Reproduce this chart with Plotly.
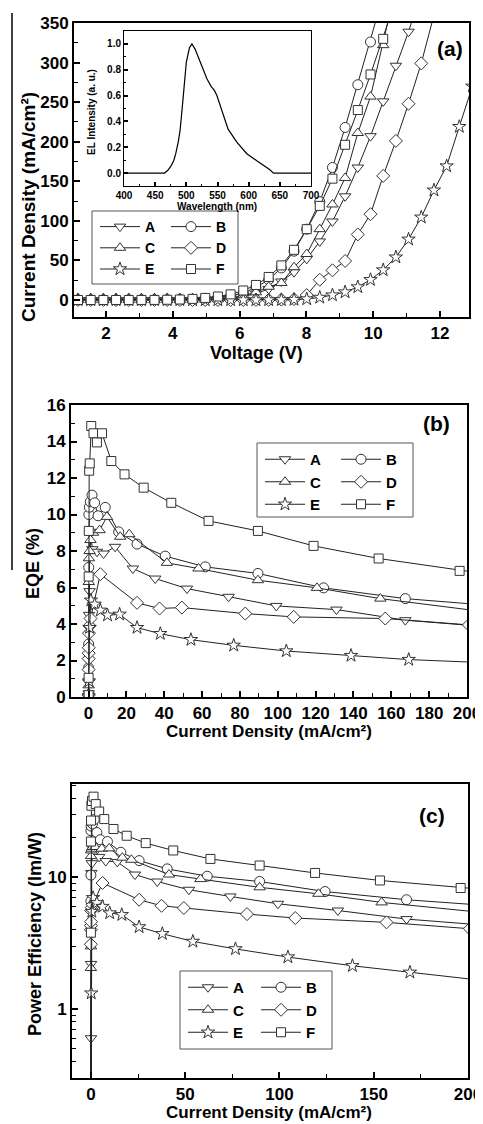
import plotly.graph_objects as go

# ---------------- data ----------------
V = [1.16, 1.54, 1.92, 2.30, 2.68, 3.06, 3.45, 3.83, 4.21, 4.59, 4.97, 5.35, 5.73, 6.11, 6.49, 6.87,
     7.25, 7.63, 8.01, 8.40, 8.78, 9.16, 9.54, 9.92, 10.30, 10.68, 11.06, 11.44, 11.82, 12.20, 12.58, 12.97]

names = ["A", "B", "C", "D", "E", "F"]

J_A = [0, 0, 0, 0, 0, 0, 0.02, 0.05, 0.1, 0.25, 0.5, 1.0, 2.0, 4.4, 7.9, 14.0, 23.4, 35.2, 52.0, 74.0,
       99.2, 131.0, 167.4, 207.0, 251.0, 296.0, 339.0, 390.0]
J_B = [0, 0, 0, 0.005, 0.01, 0.03, 0.06, 0.15, 0.4, 0.9, 1.8, 3.2, 5.0, 8.8, 15.9, 25.6, 40.5, 61.7,
       89.5, 124.2, 167.4, 218.0, 272.0, 326.0, 385.0]
J_C = [0, 0, 0, 0, 0, 0.01, 0.02, 0.05, 0.1, 0.2, 0.5, 1.0, 2.3, 5.8, 9.7, 16.7, 21.5, 41.4, 58.1,
       89.5, 120.7, 154.2, 211.0, 257.0, 322.0, 395.0]
J_D = [0, 0, 0, 0, 0, 0, 0, 0, 0, 0, 0.005, 0.01, 0.02, 0.05, 0.1, 0.2, 0.5, 1.0, 6.2, 25.6, 37.5,
       49.3, 82.8, 108.4, 156.8, 201.0, 248.0, 299.0, 360.0]
J_E = [0, 0, 0, 0, 0, 0, 0, 0, 0, 0, 0, 0, 0, 0, 0, 0.05, 0.2, 0.5, 1.2, 3.2, 6.2, 10.0, 16.4, 25.6,
       37.9, 54.1, 76.7, 104.5, 138.7, 169.2, 219.0, 270.0]
J_F = [0, 0, 0, 0.01, 0.02, 0.05, 0.1, 0.3, 0.6, 1.4, 2.6, 4.4, 7.1, 12.0, 19.0, 29.1, 43.7, 63.4,
       89.5, 118.9, 153.3, 196.1, 240.0, 285.0, 330.0, 380.0]

# EQE (%) measured from index given by *_start of the voltage grid
EQE_A_start, EQE_A = 6, [0.05, 0.2, 0.84, 4.5, 5.8, 9.05, 8.1, 7.96, 7.86, 8.23, 7.04, 6.49, 5.94, 5.49,
                          4.99, 4.79, 4.21, 3.88]
EQE_B_start, EQE_B = 3, [0.1, 1.6, 2.9, 7.1, 10.0, 10.4, 10.7, 11.06, 10.64, 9.93, 10.39, 9.05, 8.38,
                          7.72, 7.13, 6.77, 5.98, 5.39, 4.97]
EQE_C_start, EQE_C = 5, [0.1, 0.64, 1.04, 6.3, 7.6, 8.0, 8.6, 9.0, 9.14, 9.87, 8.78, 8.92, 7.35, 7.04,
                          6.4, 5.98, 5.39, 4.65]
EQE_D_start, EQE_D = 10, [0.1, 1.5, 2.1, 2.4, 2.7, 3.5, 3.9, 4.3, 6.73, 5.16, 4.85, 4.9, 4.57, 4.39,
                           4.30, 3.95]
EQE_E_start, EQE_E = 15, [0.05, 0.87, 3.8, 5.3, 5.08, 4.75, 4.48, 4.53, 3.8, 3.47, 3.14, 2.83, 2.52,
                           2.27, 2.05, 1.84, 1.7]
EQE_F_start, EQE_F = 3, [0.1, 1.05, 6.6, 9.1, 12.4, 12.8, 14.85, 14.45, 13.95, 14.45, 12.93, 12.2,
                          11.47, 10.64, 9.65, 9.1, 8.28, 7.59, 6.91, 6.3]

# Power efficiency (lm/W), same index alignment as EQE
PE_A = [0.1, 0.6, 2.2, 10.8, 12.8, 16.5, 15.5, 14.3, 13.3, 13.1, 10.5, 9.3, 8.05, 7.16, 6.3, 5.6, 4.82, 4.35]
PE_B = [0.2, 6.6, 10.4, 22.6, 24.5, 26.0, 25.5, 27.5, 21.9, 19.3, 18.7, 15.5, 13.4, 11.6, 10.2, 9.3,
        7.8, 6.76, 6.0]
PE_C = [0.2, 2.05, 2.99, 14.5, 16.0, 16.5, 17.0, 17.0, 16.5, 16.6, 14.1, 13.6, 10.5, 9.7, 8.4, 7.5,
        6.45, 5.35]
PE_D = [0.22, 3.1, 4.0, 4.3, 4.6, 5.6, 5.9, 6.2, 9.06, 6.76, 6.08, 5.85, 5.26, 4.91, 4.55, 4.07]
PE_E = [0.08, 1.32, 5.5, 7.0, 6.4, 6.0, 5.36, 5.2, 4.2, 3.73, 3.26, 2.86, 2.48, 2.13, 1.90, 1.58, 1.44]
PE_F = [0.2, 3.8, 18.7, 27.0, 35.0, 38.0, 41.0, 36.0, 31.6, 27.7, 23.3, 20.7, 18.2, 16.0, 13.8, 12.3,
        10.8, 9.47, 8.3, 7.4]

# inset EL spectrum
wavelength = [400, 465, 470, 476, 480, 483, 487, 490, 495, 500, 505, 509, 514, 519, 525, 533, 540, 545,
              549, 557, 567, 581, 597, 613, 626, 633, 640, 700]
el_intensity = [0, 0, 0.02, 0.06, 0.10, 0.15, 0.24, 0.33, 0.59, 0.86, 0.97, 1.0, 0.96, 0.90, 0.82, 0.73,
                0.67, 0.64, 0.60, 0.49, 0.34, 0.24, 0.15, 0.095, 0.054, 0.03, 0, 0]

# ---------------- styling ----------------
# the page body adds an 8 px margin, so the figure is 8 px smaller and shifted
OFF = 8
W, H = 483 - OFF, 1124 - OFF
FONT = "Liberation Sans, Arial, sans-serif"
symbols = {"A": "triangle-down", "B": "circle", "C": "triangle-up",
           "D": "diamond", "E": "star", "F": "square"}
msize = {"A": 10, "B": 10, "C": 10, "D": 10, "E": 10, "F": 9}

J = {"A": J_A, "B": J_B, "C": J_C, "D": J_D, "E": J_E, "F": J_F}
EQE = {"A": (EQE_A_start, EQE_A), "B": (EQE_B_start, EQE_B), "C": (EQE_C_start, EQE_C),
       "D": (EQE_D_start, EQE_D), "E": (EQE_E_start, EQE_E), "F": (EQE_F_start, EQE_F)}
PE = {"A": PE_A, "B": PE_B, "C": PE_C, "D": PE_D, "E": PE_E, "F": PE_F}


def px(x):
    return (x - OFF) / W


def py(y):
    return 1 - (y - OFF) / H


fig = go.Figure()

legend_ids = [("legend", "legend2"), ("legend3", "legend4"), ("legend5", "legend6")]
for name in names:
    col = 0 if name in ("A", "C", "E") else 1
    mk = dict(symbol=symbols[name], size=msize[name], color="white",
              line=dict(color="#333333", width=1))
    ln = dict(color="#222222", width=1)
    j = J[name]
    s, e = EQE[name]
    jj = j[s:s + len(e)]
    # (a) J-V
    fig.add_trace(go.Scatter(x=V[:len(j)], y=j, mode="lines+markers", name=name, marker=mk, line=ln,
                             xaxis="x", yaxis="y", legend=legend_ids[0][col]))
    # (b) EQE-J
    fig.add_trace(go.Scatter(x=jj, y=e, mode="lines+markers", name=name, marker=mk, line=ln,
                             xaxis="x2", yaxis="y2", legend=legend_ids[1][col]))
    # (c) PE-J
    fig.add_trace(go.Scatter(x=jj, y=PE[name], mode="lines+markers", name=name, marker=mk, line=ln,
                             xaxis="x3", yaxis="y3", legend=legend_ids[2][col]))

fig.add_trace(go.Scatter(x=wavelength, y=el_intensity, mode="lines", showlegend=False,
                         line=dict(color="black", width=1.2), xaxis="x4", yaxis="y4"))


def axis(domain, rng, dtick, minor_dtick, anchor, size=17, lw=2, tlen=6, **kw):
    d = dict(domain=domain, range=rng, dtick=dtick, anchor=anchor, showline=True, linewidth=lw,
             linecolor="black", mirror=True, ticks="inside", ticklen=tlen, tickwidth=1.5,
             tickcolor="black", showgrid=False, zeroline=False, automargin=False,
             tickfont=dict(family=FONT, size=size, color="black", weight="bold"),
             minor=dict(ticks="inside", ticklen=tlen * 0.6, tickwidth=1, tickcolor="black",
                        dtick=minor_dtick, showgrid=False))
    d.update(kw)
    return d


# panel domains (reference pixels)
a_x, a_y = [px(74), px(469)], [py(317), py(23)]
b_x, b_y = [px(71), px(467)], [py(697), py(405)]
c_x, c_y = [px(72), px(468)], [py(1078), py(784)]
i_x, i_y = [px(124), px(311)], [py(186), py(31)]

fig.update_layout(
    width=W, height=H, margin=dict(l=0, r=0, t=0, b=0, autoexpand=False),
    paper_bgcolor="white", plot_bgcolor="white",
    font=dict(family=FONT, color="black"),
    xaxis=axis(a_x, [1.04, 12.87], 2, 1, "y", tick0=0),
    yaxis=axis(a_y, [-21.5, 350], 50, 25, "x", tick0=0),
    xaxis2=axis(b_x, [-9.3, 200], 20, 10, "y2", tick0=0),
    yaxis2=axis(b_y, [0, 16], 2, 1, "x2", tick0=0),
    xaxis3=axis(c_x, [-10, 200], 50, 25, "y3", tick0=0),
    yaxis3=axis(c_y, [-0.524, 1.709], 1, "D1", "x3", type="log"),
    xaxis4=axis(i_x, [400, 700], 50, 25, "y4", size=10, lw=1, tlen=4, tick0=0),
    yaxis4=axis(i_y, [-0.1, 1.1], 0.2, 0.1, "x4", size=10, lw=1, tlen=4, tick0=0, tickformat=".1f"),
    showlegend=True,
)


def legend_cfg(x, y, size):
    return dict(x=px(x), y=py(y), xanchor="left", yanchor="top", xref="paper", yref="paper",
                orientation="v", bgcolor="rgba(0,0,0,0)", borderwidth=0, itemwidth=40,
                tracegroupgap=0, font=dict(family=FONT, size=size, color="black", weight="bold"))


fig.update_layout(
    legend=legend_cfg(95, 211, 14), legend2=legend_cfg(166, 211, 14),
    legend3=legend_cfg(260, 443, 15), legend4=legend_cfg(336, 443, 15),
    legend5=legend_cfg(183, 971, 15), legend6=legend_cfg(256, 971, 15),
)

# legend frames and scan edge line
shapes = [
    dict(type="rect", xref="paper", yref="paper", x0=px(92), x1=px(238), y0=py(284), y1=py(211),
         line=dict(color="#555555", width=1)),
    dict(type="rect", xref="paper", yref="paper", x0=px(257), x1=px(413), y0=py(517), y1=py(443),
         line=dict(color="#555555", width=1)),
    dict(type="rect", xref="paper", yref="paper", x0=px(180), x1=px(332), y0=py(1049), y1=py(971),
         line=dict(color="#555555", width=1)),
    dict(type="line", xref="paper", yref="paper", x0=px(12), x1=px(12), y0=py(13), y1=py(570),
         line=dict(color="black", width=1.5)),
]
fig.update_layout(shapes=shapes)


def ann(text, x, y, size, angle=0, yanchor="middle"):
    return dict(text=text, x=px(x), y=py(y), xref="paper", yref="paper", showarrow=False,
                xanchor="center", yanchor=yanchor, textangle=angle,
                font=dict(family=FONT, size=size, color="black", weight="bold"))


annotations = [
    ann("Current Density (mA/cm²)", 28, 207, 19, -90),
    ann("Voltage (V)", 256, 353, 18),
    ann("EQE (%)", 33, 564, 18, -90),
    ann("Current Density (mA/cm²)", 269, 731, 17),
    ann("Power Efficiency (lm/W)", 35, 934, 18, -90),
    ann("Current Density (mA/cm²)", 269, 1124, 17, yanchor="bottom"),
    ann("(a)", 450, 48, 21),
    ann("(b)", 436, 423, 21),
    ann("(c)", 432, 815, 21),
    ann("EL Intensity (a. u.)", 92, 112, 10, -90),
    ann("Wavelength (nm)", 217, 206, 10),
]
fig.update_layout(annotations=annotations)

fig.write_html("out.html")
